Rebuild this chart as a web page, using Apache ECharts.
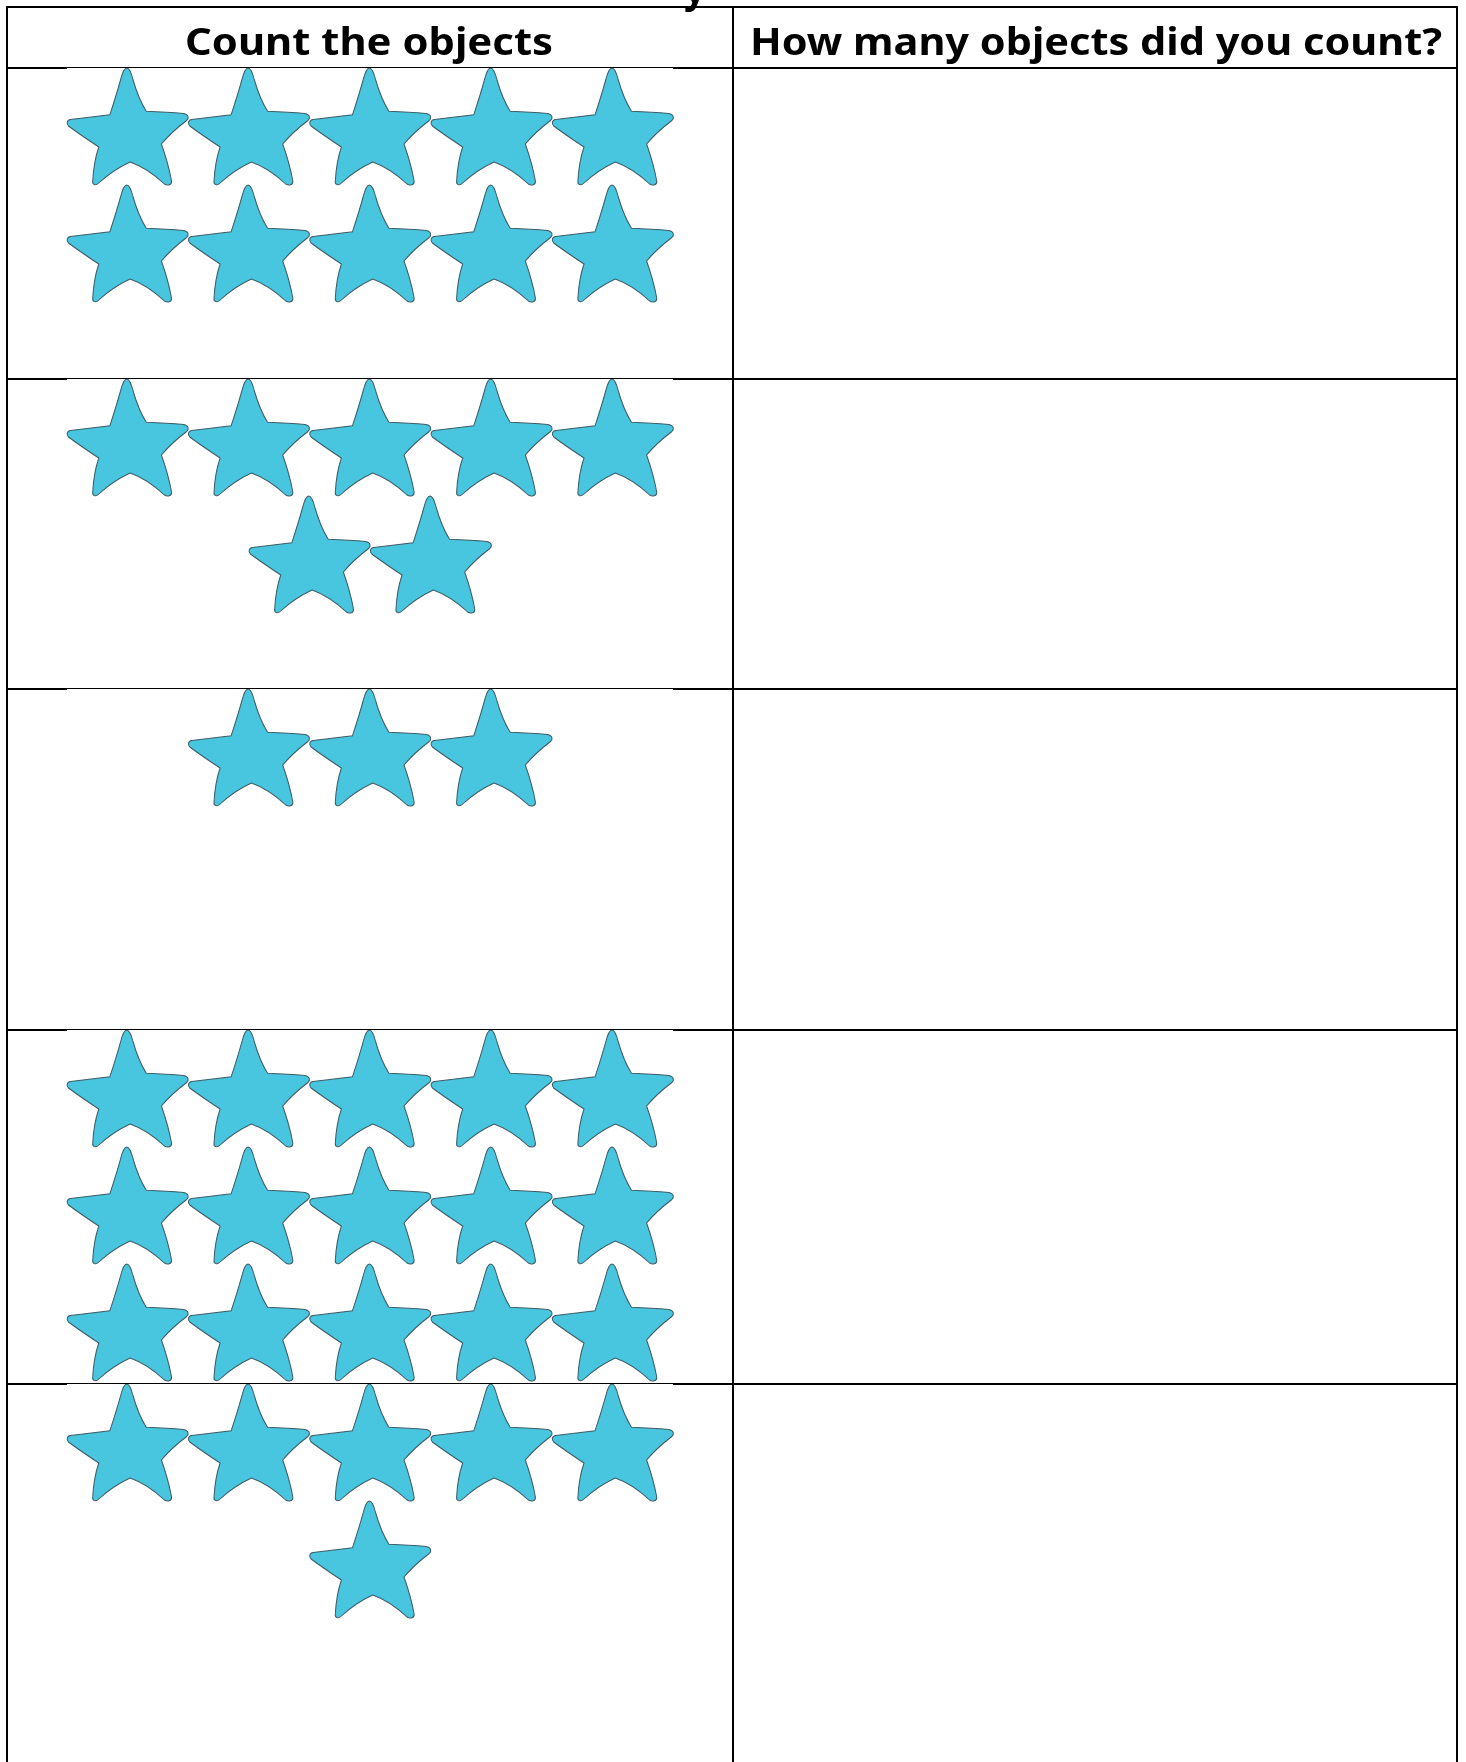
<!DOCTYPE html>
<html>
<head>
<meta charset="utf-8">
<script src="https://cdn.jsdelivr.net/npm/echarts@6/dist/echarts.min.js"></script>
<style>
  html, body { margin: 0; padding: 0; background: #fff; }
  #main { width: 1466px; height: 1762px; }
</style>
</head>
<body>
<div id="main"></div>
<script>
// stars in each answer box, row by row
var boxRows = [[5, 5], [5, 2], [3], [5, 5, 5], [5, 1]];
// column where each row starts (half columns = centred rows)
var rowFirstCol = [[0, 0], [0, 1.5], [1], [0, 0, 0], [0, 2]];
var headers = ['Count the objects', 'How many objects did you count?'];

// page layout
var starTops = [68, 379, 689, 1030, 1384];
var rowLines = [68, 379, 689, 1030, 1384];
var ROW_H = 117;
var colLeft = 7, colMid = 733, colRight = 1457;
var FONT = '"Comic Sans MS", "Noto Sans", sans-serif';

var STAR = 'path://M59.7 0 C62 0 64 4 66 12 Q71 30 79 43.3 Q100 44 116 45.5 C121 46.5 121.5 50 119 52.5 ' +
    'Q104 64 94 76 Q101 96 104 113 C104.5 117 100 118 97 116 Q80 100 63 94 Q46 102 32 115 ' +
    'C29 118 25.5 117 26 113 Q27 94 32 79 Q14 67 2 58 C0 56 0 52 4 51.5 Q25 49 43 46.7 ' +
    'Q50 25 53.5 12 C55.5 4 57.5 0 59.7 0 Z';

var chart = echarts.init(document.getElementById('main'));

// width of header text so it can be stretched like the original
var ctx = document.createElement('canvas').getContext('2d');
function fitText(text, x0, x1, y) {
    ctx.font = 'bold 38px ' + FONT;
    var w = ctx.measureText(text).width;
    return {
        type: 'text', x: x0, y: y, scaleX: (x1 - x0) / w, z: 100,
        style: {
            text: text, fontSize: 38, fontWeight: 'bold', fontFamily: FONT,
            fill: '#000', align: 'left', verticalAlign: 'middle'
        }
    };
}

function hLine(x1, x2, y, w) {
    return {type: 'line', z: 100, shape: {x1: x1, y1: y, x2: x2, y2: y}, style: {stroke: '#000', lineWidth: w}};
}
function vLine(x, y1, y2, w) {
    return {type: 'line', z: 100, shape: {x1: x, y1: y1, x2: x, y2: y2}, style: {stroke: '#000', lineWidth: w}};
}

var grids = [], xAxes = [], yAxes = [], series = [];
boxRows.forEach(function (rows, i) {
    grids.push({left: 67, top: starTops[i], width: 606.5, height: 3 * ROW_H});
    xAxes.push({gridIndex: i, type: 'value', min: -0.5, max: 4.5, show: false});
    yAxes.push({gridIndex: i, type: 'value', min: -0.5, max: 2.5, inverse: true, show: false});
    var data = [];
    rows.forEach(function (n, r) {
        for (var k = 0; k < n; k++) {
            data.push([rowFirstCol[i][r] + k, r]);
        }
    });
    series.push({
        type: 'scatter', xAxisIndex: i, yAxisIndex: i, clip: false, silent: true,
        symbol: STAR, symbolSize: [121, 117],
        itemStyle: {color: '#48c5df', borderColor: '#3d5d66', borderWidth: 1, opacity: 1},
        data: data
    });
});

var lines = [];
lines.push(hLine(colLeft - 1, colRight + 1, 7, 2));
lines.push(vLine(colLeft, 6, 1762, 2));
lines.push(vLine(colMid, 6, 1762, 2));
lines.push(vLine(colRight, 6, 1762, 2));
rowLines.forEach(function (y) {
    lines.push(hLine(colLeft, 67, y, 2));
    lines.push(hLine(67, 673, y - 0.5, 1));
    lines.push(hLine(673, colRight, y, 2));
});

lines.push(fitText(headers[0], 185, 553, 44));
lines.push(fitText(headers[1], 750, 1442, 44));
// descender of the cut-off title above the table
lines.push({
    type: 'text', x: 684, y: -8, z: 100,
    style: {text: 'y', fontSize: 38, fontWeight: 'bold', fontFamily: FONT, fill: '#000', align: 'left', verticalAlign: 'middle'}
});

chart.setOption({
    backgroundColor: '#fff',
    animation: false,
    grid: grids,
    xAxis: xAxes,
    yAxis: yAxes,
    series: series,
    graphic: lines
});
</script>
</body>
</html>
